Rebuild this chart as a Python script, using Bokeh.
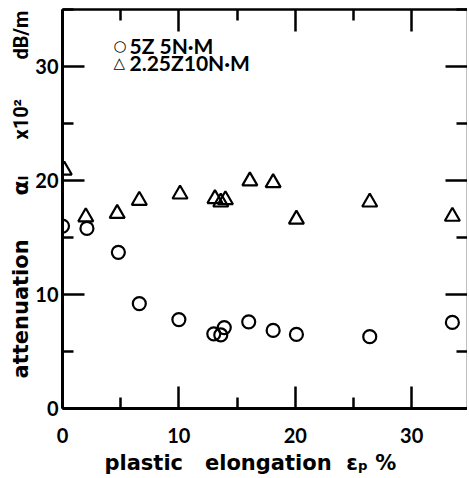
import math
from bokeh.plotting import figure
from bokeh.layouts import row
from bokeh.models import Label, LinearAxis, FixedTicker, Range1d
from bokeh.embed import file_html
from bokeh.resources import INLINE

# data
circ_x = [0.0, 2.1, 4.8, 6.6, 10.0, 13.0, 13.6, 13.9, 16.0, 18.1, 20.1, 26.4, 33.5]
circ_y = [16.0, 15.8, 13.7, 9.2, 7.8, 6.55, 6.45, 7.1, 7.6, 6.85, 6.5, 6.3, 7.55]
tri_x = [0.15, 2.0, 4.7, 6.6, 10.1, 13.1, 13.6, 14.0, 16.1, 18.1, 20.1, 26.4, 33.5]
tri_y = [20.9, 16.8, 17.1, 18.25, 18.8, 18.4, 18.1, 18.3, 19.95, 19.8, 16.6, 18.1, 16.85]
major_ticks = [0, 10, 20, 30]
minor_ticks = [5, 15, 25, 35]
series_labels = ["5Z 5N·M", "2.25Z10N·M"]
series_symbols = ["○", "△"]

NB = "\u00a0"
FONT = "Lato"
WIDE = "DejaVu Sans"
NARROW = "Roboto"

# ---------- main plot ----------
p = figure(frame_width=405, frame_height=399,
           x_range=Range1d(0, 34.8), y_range=Range1d(0, 35),
           output_backend="svg", toolbar_location=None,
           min_border_left=30, min_border_right=0, min_border_top=9, min_border_bottom=70,
           x_axis_type=None, y_axis_type=None)
p.outline_line_color = None
p.xgrid.visible = False
p.ygrid.visible = False
p.background_fill_color = "white"
p.border_fill_color = "white"

def style_axis(ax, width, labels=True):
    ax.ticker = FixedTicker(ticks=major_ticks, minor_ticks=minor_ticks)
    ax.axis_line_width = width
    ax.axis_line_color = "black"
    ax.major_tick_in = 22
    ax.major_tick_out = 0
    ax.minor_tick_in = 11
    ax.minor_tick_out = 0
    ax.major_tick_line_width = 2.5
    ax.minor_tick_line_width = 2.5
    ax.major_tick_line_color = "black"
    ax.minor_tick_line_color = "black"
    if labels:
        ax.major_label_text_font = FONT
        ax.major_label_text_font_style = "bold"
        ax.major_label_text_font_size = "20px"
        ax.major_label_text_color = "black"
        ax.major_label_standoff = 4
    else:
        ax.major_label_text_font_size = "0px"
        ax.major_label_standoff = 0

xb = LinearAxis()
style_axis(xb, 3)
xb.major_label_standoff = 19
xb.axis_label = ("plastic" + NB * 3 + "elongation" + NB * 2 + "εₚ" + NB + "%" + NB * 4)
xb.axis_label_text_font = WIDE
xb.axis_label_text_font_style = "bold"
xb.axis_label_text_font_size = "21px"
xb.axis_label_text_color = "black"
xb.axis_label_standoff = 5
p.add_layout(xb, "below")

yl = LinearAxis()
style_axis(yl, 3)
p.add_layout(yl, "left")

xt = LinearAxis()
style_axis(xt, 2.5, False)
p.add_layout(xt, "above")

yr = LinearAxis()
style_axis(yr, 1.5, False)
p.add_layout(yr, "right")

p.scatter(circ_x, circ_y, marker="circle", size=13, fill_color=None,
          line_color="black", line_width=2.2)
p.scatter(tri_x, tri_y, marker="triangle", size=15, fill_color=None,
          line_color="black", line_width=2.2)

# legend written as text, like the original
for i, (sym, txt) in enumerate(zip(series_symbols, series_labels)):
    sy = 363 - 17 * i
    p.add_layout(Label(x=51, y=sy, x_units="screen", y_units="screen", text=sym,
                       text_align="left", text_baseline="middle",
                       text_font=WIDE, text_font_style="bold", text_font_size="15px",
                       text_color="black"))
    p.add_layout(Label(x=67, y=sy, x_units="screen", y_units="screen", text=txt,
                       text_align="left", text_baseline="middle",
                       text_font=FONT, text_font_style="bold", text_font_size="21px",
                       text_color="black"))

# ---------- left strip holding the spread-out y axis title ----------
lf = figure(frame_width=32, frame_height=478, x_range=Range1d(0, 32), y_range=Range1d(0, 478),
            output_backend="svg", toolbar_location=None,
            min_border=0, x_axis_type=None, y_axis_type=None)
lf.outline_line_color = None
lf.xgrid.visible = False
lf.ygrid.visible = False

def ylab(text, y, font, size):
    # anchored at the start of the word (its lower end once rotated)
    lf.add_layout(Label(x=20, y=y, text=text, angle=math.pi / 2,
                        text_align="left", text_baseline="middle",
                        text_font=font, text_font_style="bold", text_font_size=size,
                        text_color="black"))

ylab("attenuation", 109, WIDE, "21px")
ylab("αₗ", 292, WIDE, "22px")
ylab("x10²", 348, NARROW, "20px")
ylab("dB/m", 428, NARROW, "20px")

layout = row(lf, p)
open("out.html", "w").write(file_html(layout, INLINE))
